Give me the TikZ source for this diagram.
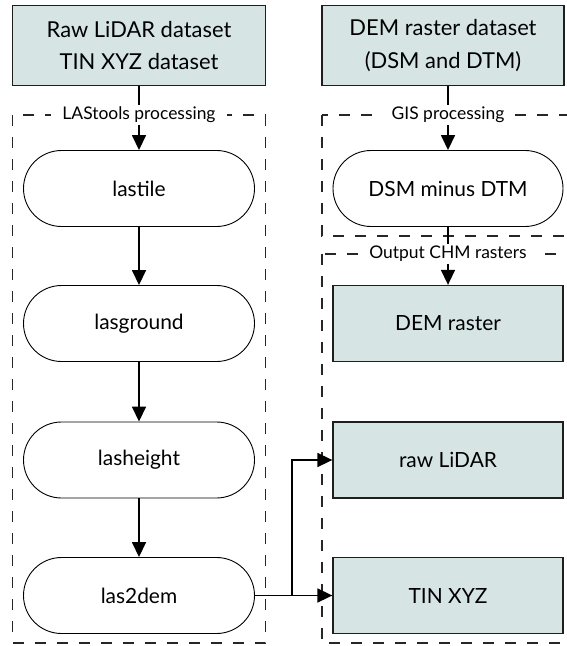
\documentclass[tikz,border=0pt]{standalone}
\usepackage{fontspec}
\setmainfont{Lato}
\usetikzlibrary{arrows.meta,calc}
\definecolor{boxfill}{RGB}{214,228,228}
\definecolor{edge}{RGB}{30,30,30}
\begin{document}
\begin{tikzpicture}[x=1bp,y=-1bp,
  inbox/.style={draw=edge, line width=1.3bp, fill=boxfill, minimum height=80bp, inner sep=0pt, align=center, font=\fontsize{22}{33}\selectfont},
  proc/.style={draw=black, line width=0.9bp, rounded corners=38bp, minimum width=231bp, minimum height=76bp, inner sep=0pt, font=\fontsize{21}{25}\selectfont},
  outbox/.style={draw=edge, line width=1.3bp, fill=boxfill, minimum width=230bp, minimum height=76bp, inner sep=0pt, font=\fontsize{21}{25}\selectfont},
  frame/.style={draw=black!85, line width=1.1bp, dash pattern=on 11bp off 11bp},
  flabel/.style={fill=white, inner xsep=11bp, inner ysep=2bp, font=\fontsize{17.5}{20}\selectfont},
  arr/.style={draw=black, line width=1.6bp, -{Triangle[length=15bp,width=14bp]}}
]
\useasboundingbox (0,0) rectangle (567,646);
\clip (0,0) rectangle (567,646);
\fill[white] (0,0) rectangle (567,646);

% frames
\draw[frame] (12.7,115) rectangle (265.5,643);
\draw[frame] (322,115) rectangle (600,236);
\draw[frame] (322,254) rectangle (600,643);

% top input boxes
\node[inbox, minimum width=252.3bp] (rawin) at (139,45.5) {Raw LiDAR dataset\\TIN XYZ dataset};
\node[inbox, minimum width=242bp] (demin) at (443,45.5) {DEM raster dataset\\(DSM and DTM)};

% left column
\node[proc] (lastile) at (139,188.5) {lastile};
\node[proc] (lasground) at (139,323.5) {lasground};
\node[proc] (lasheight) at (139,460) {lasheight};
\node[proc] (las2dem) at (139,595.5) {las2dem};

% right column
\node[proc, minimum width=230bp] (dsm) at (448,188.5) {DSM minus DTM};
\node[outbox] (demr) at (448,323.5) {DEM raster};
\node[outbox] (rawl) at (448,460) {raw LiDAR};
\node[outbox] (tin) at (448,595.5) {TIN XYZ};

% connectors
\draw[arr] (rawin.south -| lastile.north) -- (lastile.north);
\draw[arr] (demin.south -| dsm.north) -- (dsm.north);
\draw[arr] (lastile) -- (lasground);
\draw[arr] (lasground) -- (lasheight);
\draw[arr] (lasheight) -- (las2dem);
\draw[arr] (dsm) -- (demr);
\draw[arr] (las2dem.east) -- (tin.west);
\coordinate (br) at ($(las2dem.east)!0.48!(tin.west)$);
\draw[arr] (br) |- (rawl.west);

% frame labels
\node[flabel] (lab1) at (139,115) {LAStools processing};
\node[flabel] (lab2) at (448,115) {GIS processing};
\node[flabel] (lab3) at (448,254) {Output CHM rasters};
\end{tikzpicture}
\end{document}
